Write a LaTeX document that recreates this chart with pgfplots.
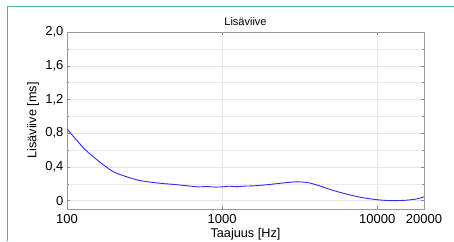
\documentclass[border=0pt]{standalone}
\usepackage{pgfplots}
\pgfplotsset{compat=1.18}
\usepackage{fontspec}
\setmainfont{Liberation Sans}
\definecolor{frameteal}{RGB}{90,168,172}
\definecolor{curveblue}{RGB}{45,45,235}
\begin{document}
\begin{tikzpicture}
\useasboundingbox (0pt,0pt) rectangle (454pt,241pt);
\fill[white] (0pt,0pt) rectangle (454pt,241pt);
\draw[frameteal,line width=1.6pt] (7.5pt,0pt) -- (7.5pt,234.5pt) -- (454pt,234.5pt);
\begin{axis}[
  at={(67pt,32pt)}, anchor=south west,
  scale only axis, width=357pt, height=177pt,
  xmode=log, xmin=100, xmax=20000,
  ymin=-0.1, ymax=2.0,
  xtick={100,1000,10000,20000},
  xticklabels={100,1000,10000,20000},
  ytick={0,0.4,0.8,1.2,1.6,2.0},
  yticklabels={0,{0,4},{0,8},{1,2},{1,6},{2,0}},
  minor ytick={0.2,0.6,1.0,1.4,1.8},
  grid=both,
  major grid style={draw=black!10},
  minor grid style={draw=black!8},
  axis line style={draw=black!40},
  tick style={draw=black!45},
  major tick length=3pt, minor tick length=2pt,
  tick align=inside,
  ticklabel style={font=\fontsize{13}{13}\selectfont},
  xticklabel style={anchor=base, yshift=-14pt},
  title={Lisäviive},
  title style={font=\fontsize{11}{12}\selectfont, at={(axis description cs:0.5,1)}, anchor=base, yshift=0pt},
  xlabel={Taajuus [Hz]},
  ylabel={Lisäviive [ms]},
  label style={font=\fontsize{12.7}{13}\selectfont},
  xlabel style={at={(axis description cs:0.5,0)}, anchor=base, yshift=-28pt},
  ylabel style={at={(axis description cs:-0.0952,0.5)}, anchor=center},
]
\addplot[curveblue, line width=0.9pt, smooth] coordinates {
(100,0.85) (115,0.72) (130,0.61) (150,0.51) (170,0.43) (200,0.34)
(240,0.285) (300,0.235) (400,0.205) (500,0.19) (600,0.175) (700,0.163)
(800,0.167) (900,0.16) (1000,0.163) (1100,0.17) (1250,0.165) (1400,0.172)
(1600,0.175) (2000,0.19) (2500,0.21) (3000,0.222) (3500,0.215) (4000,0.19)
(5000,0.13) (6000,0.088) (7000,0.058) (8000,0.035) (10000,0.01)
(12000,0.0) (15000,0.003) (18000,0.02) (20000,0.045)
};
\end{axis}
\end{tikzpicture}
\end{document}
